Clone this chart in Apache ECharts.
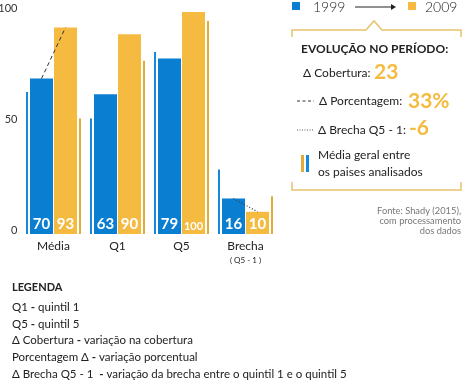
<!DOCTYPE html>
<html><head><meta charset="utf-8">
<script src="https://cdn.jsdelivr.net/npm/echarts@6/dist/echarts.min.js"></script>
<style>html,body{margin:0;padding:0;background:#fff}#c{width:462px;height:380px}</style>
</head><body><div id="c"></div>
<script>
// ---- data ----
const categories = ['Média', 'Q1', 'Q5', 'Brecha'];
const categorySubLabels = ['', '', '', '( Q5 - 1 )'];
const cobertura1999 = [70, 63, 79, 16];
const cobertura2009 = [93, 90, 100, 10];
const mediaGeral1999 = [64, 52, 82, 29];
const mediaGeral2009 = [52, 78, 96, 17];
const yTicks = [0, 50, 100];
const legendYears = ['1999', '2009'];
const evolucaoTitle = 'EVOLUÇÃO NO PERÍODO:';
const evolucaoLabels = ['Δ Cobertura:', 'Δ Porcentagem:', 'Δ Brecha Q5 - 1:'];
const evolucaoValues = ['23', '33%', '-6'];
const mediaGeralText = ['Média geral entre', 'os paises analisados'];
const fonteText = ['Fonte: Shady (2015),', 'com processamento', 'dos dados'];
const legendaTitle = 'LEGENDA';
const legendaTerms = ['Q1', 'Q5', 'Δ Cobertura', 'Porcentagem Δ', 'Δ Brecha Q5 - 1 '];
const legendaDescs = ['quintil 1', 'quintil 5', 'variação na cobertura', 'variação porcentual', 'variação da brecha entre o quintil 1 e o quintil 5'];

// ---- styles ----
const FONT = 'Lato';
const BLUE = '#0a7fd1', YELLOW = '#f5bb41', THINBLUE = '#1689db', THINYELLOW = '#e2ab3a';
const BRACKET = '#e6c26c', TXT = '#222';

function spacer(w) { return { type: 'bar', data: [], barWidth: w, barGap: 0, silent: true }; }
const valueLabel = {
  show: true, position: 'insideBottom', distance: 2, color: '#fff',
  fontFamily: FONT, fontWeight: 'bold',
  formatter: p => (p.value >= 100 ? '{s|' + p.value + '}' : '{b|' + p.value + '}'),
  rich: { b: { fontSize: 15, fontWeight: 'bold', fontFamily: FONT, color: '#fff' },
          s: { fontSize: 11, fontWeight: 'bold', fontFamily: FONT, color: '#fff' } }
};
function connector(idx, dash, width, color) {
  return {
    type: 'custom', z: 10, silent: true,
    data: [[idx, cobertura1999[idx], cobertura2009[idx]]],
    encode: { x: 0, y: [1, 2] },
    renderItem(params, api) {
      const a = api.coord([api.value(0), api.value(1)]);
      const b = api.coord([api.value(0), api.value(2)]);
      return { type: 'line', shape: { x1: a[0] - 12, y1: a[1], x2: b[0] + 12, y2: b[1] },
               style: { stroke: color, lineWidth: width, lineDash: dash, fill: null } };
    }
  };
}

function txt(x, y, text, opts) {
  return { type: 'text', x: x, y: y, silent: true,
    style: Object.assign({ text: text, fill: TXT, fontFamily: FONT, fontSize: 12,
      align: 'left', verticalAlign: 'middle' }, opts || {}) };
}

const graphics = [
  // legend
  { type: 'rect', shape: { x: 292, y: 2, width: 8, height: 8 }, style: { fill: BLUE } },
  txt(313, 7, legendYears[0], { fontSize: 14, fontWeight: 300 }),
  { type: 'line', shape: { x1: 355, y1: 7, x2: 392, y2: 7 }, style: { stroke: '#222', lineWidth: 1 } },
  { type: 'polygon', shape: { points: [[391, 4], [396, 7], [391, 10]] }, style: { fill: '#222' } },
  { type: 'rect', shape: { x: 408, y: 2, width: 8, height: 8 }, style: { fill: YELLOW } },
  txt(425, 7, legendYears[1], { fontSize: 14, fontWeight: 300 }),
  // brackets
  { type: 'polyline', shape: { points: [[292, 37], [292, 30], [366, 30], [374, 21], [382, 30], [461, 30], [461, 37]] },
    style: { stroke: BRACKET, lineWidth: 1.5, fill: null } },
  { type: 'polyline', shape: { points: [[292, 182], [292, 190], [461, 190], [461, 182]] },
    style: { stroke: BRACKET, lineWidth: 1.5, fill: null } },
  txt(301, 49, evolucaoTitle, { fontWeight: 'bold', fontSize: 12 }),
  txt(303, 73, evolucaoLabels[0], { fontSize: 12 }),
  txt(374, 72, evolucaoValues[0], { fontSize: 21, fontWeight: 'bold', fill: YELLOW }),
  { type: 'line', shape: { x1: 297, y1: 101, x2: 314, y2: 101 }, style: { stroke: '#333', lineWidth: 1, lineDash: [3, 2.5] } },
  txt(319, 101, evolucaoLabels[1], { fontSize: 12 }),
  txt(408, 101, evolucaoValues[1], { fontSize: 21, fontWeight: 'bold', fill: YELLOW }),
  { type: 'line', shape: { x1: 297, y1: 130, x2: 313, y2: 130 }, style: { stroke: '#555', lineWidth: 1, lineDash: [1, 1.5] } },
  txt(318, 130, evolucaoLabels[2], { fontSize: 12 }),
  txt(409, 128, evolucaoValues[2], { fontSize: 21, fontWeight: 'bold', fill: YELLOW }),
  { type: 'rect', shape: { x: 301, y: 155, width: 3, height: 17 }, style: { fill: THINYELLOW } },
  { type: 'rect', shape: { x: 306, y: 155, width: 3, height: 17 }, style: { fill: THINBLUE } },
  txt(318, 155, mediaGeralText[0], { fontSize: 12 }),
  txt(318, 172, mediaGeralText[1], { fontSize: 12 }),
  txt(461, 211, fonteText[0], { fontSize: 9.3, fill: '#777', align: 'right' }),
  txt(461, 221, fonteText[1], { fontSize: 9.3, fill: '#777', align: 'right' }),
  txt(461, 231, fonteText[2], { fontSize: 9.3, fill: '#777', align: 'right' }),
  txt(12, 287, legendaTitle, { fontWeight: 'bold', fontSize: 11 })
];
legendaTerms.forEach((t, i) => {
  graphics.push(txt(12, 307 + i * 16.8, t + ' {d|-} ' + legendaDescs[i], {
    fontSize: 11.5, fill: '#222',
    rich: { d: { fontWeight: 'bold', fontSize: 11.5, fontFamily: FONT, fill: '#222' } }
  }));
});

const chart = echarts.init(document.getElementById('c'), null, { renderer: 'canvas' });
chart.setOption({
  animation: false,
  backgroundColor: '#fff',
  grid: { left: 21.5, width: 256, top: 12, bottom: 146, containLabel: false, outerBoundsMode: 'none' },
  xAxis: {
    type: 'category', data: categories,
    axisLine: { show: false }, axisTick: { show: false },
    axisLabel: {
      interval: 0, margin: 6, fontSize: 12, color: TXT, fontFamily: FONT,
      formatter: (v, i) => (categorySubLabels[i] ? v + '\n{s|' + categorySubLabels[i] + '}' : v),
      rich: { s: { fontSize: 8, lineHeight: 16, fontFamily: FONT, color: TXT } }
    }
  },
  yAxis: {
    type: 'value', min: yTicks[0], max: yTicks[yTicks.length - 1], interval: yTicks[1] - yTicks[0],
    axisLine: { show: false }, axisTick: { show: false }, splitLine: { show: false },
    axisLabel: { margin: 4, fontSize: 11, color: '#333', fontFamily: FONT, verticalAlign: 'bottom', lineHeight: 7 }
  },
  graphic: { elements: graphics },
  series: [
    { type: 'bar', data: mediaGeral1999, barWidth: 2, barGap: 0, itemStyle: { color: THINBLUE }, silent: true },
    spacer(2),
    { type: 'bar', data: cobertura1999, barWidth: 23, barGap: 0, itemStyle: { color: BLUE }, label: valueLabel },
    spacer(1),
    { type: 'bar', data: cobertura2009, barWidth: 23, barGap: 0, itemStyle: { color: YELLOW }, label: valueLabel },
    spacer(2),
    { type: 'bar', data: mediaGeral2009, barWidth: 2, barGap: 0, itemStyle: { color: THINYELLOW }, silent: true },
    connector(0, [4, 3], 1, '#333'),
    connector(3, [1, 2], 1.3, '#444')
  ]
});
</script>
</body></html>
